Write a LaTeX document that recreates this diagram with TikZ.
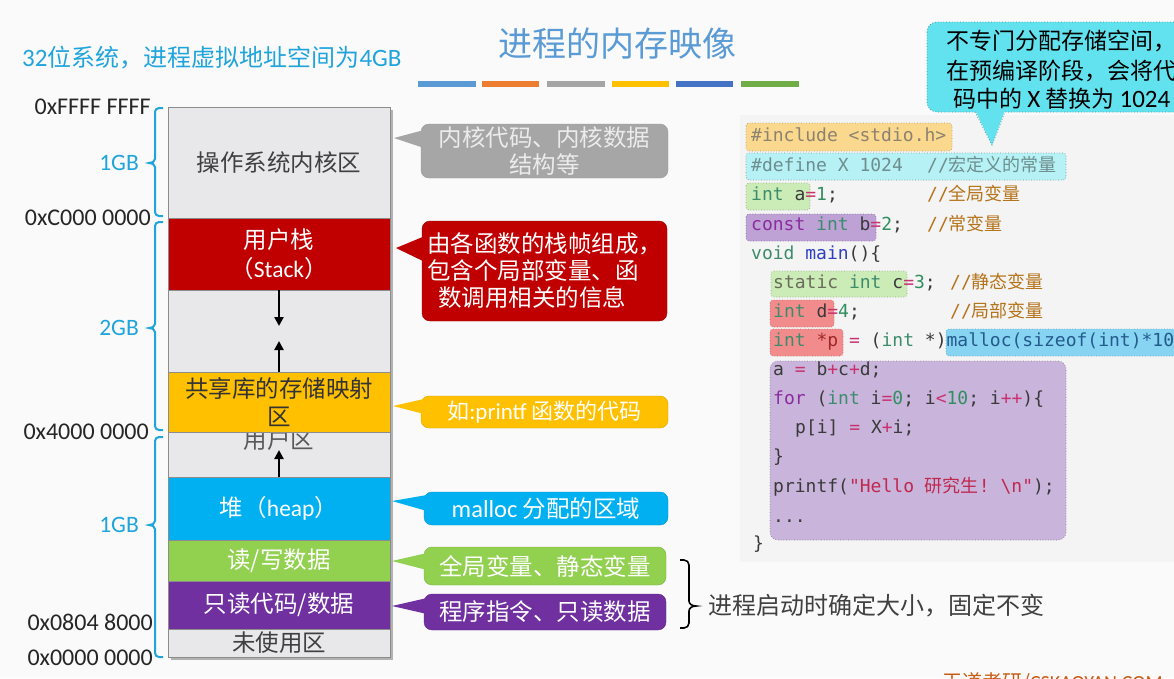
\documentclass[tikz,border=0pt]{standalone}
\usepackage{fontspec}
\setmainfont{Carlito}
\newfontfamily\cjk{Noto Sans CJK SC}
\newfontfamily\latin{Carlito}
\newfontfamily\mono{DejaVu Sans Mono}
\usetikzlibrary{calc,arrows.meta}
\definecolor{titleblue}{HTML}{5B9BD5}
\definecolor{subcyan}{HTML}{1FA4DC}
\definecolor{bar1}{HTML}{5B9BD5}
\definecolor{bar2}{HTML}{ED7D31}
\definecolor{bar3}{HTML}{A5A5A5}
\definecolor{bar4}{HTML}{FFC000}
\definecolor{bar5}{HTML}{4472C4}
\definecolor{bar6}{HTML}{70AD47}
\definecolor{seggray}{HTML}{E8E8EB}
\definecolor{segred}{HTML}{C00000}
\definecolor{segyellow}{HTML}{FFC000}
\definecolor{segcyan}{HTML}{00B0F0}
\definecolor{seggreen}{HTML}{92D050}
\definecolor{segpurple}{HTML}{7030A0}
\definecolor{callgray}{HTML}{A6A6A6}
\definecolor{aqua}{HTML}{62E2EE}
\definecolor{aquaborder}{HTML}{3C9CA4}
\definecolor{panel}{HTML}{F4F4F4}
\definecolor{hlorange}{HTML}{FAD98E}
\definecolor{hlcyan}{HTML}{B6F1F5}
\definecolor{hlgreen}{HTML}{CBEBB7}
\definecolor{hlpurple}{HTML}{BEA2D6}
\definecolor{hlred}{HTML}{F28C8C}
\definecolor{hlblue}{HTML}{86D3F2}
\definecolor{hlblock}{HTML}{C9B4DB}
\definecolor{ckw}{HTML}{3C8C6C}
\definecolor{ckw2}{HTML}{8B2C9E}
\definecolor{cfn}{HTML}{2F3FBF}
\definecolor{cop}{HTML}{C8326E}
\definecolor{cnum}{HTML}{2F8F5F}
\definecolor{ccom}{HTML}{B5731A}
\definecolor{cstr}{HTML}{C0284E}
\definecolor{cid}{HTML}{3A3A3A}
\definecolor{cinc}{HTML}{8C8270}
\definecolor{cdef}{HTML}{6E8E8E}
\definecolor{cstat}{HTML}{6B6B5B}
\definecolor{cptr}{HTML}{A02828}
\definecolor{cmal}{HTML}{245A8C}
\definecolor{wdred}{HTML}{C55A11}
\newcommand\cc[2]{\textcolor{#1}{#2}}
\newcommand\mybrace[3]{%
  \draw[cbrace] (163,#1) -- (159,#1) to[out=180,in=90] (155,#1+4) -- (155,#2-4)
    to[out=-90,in=0] (149,#2) to[out=0,in=90] (155,#2+4) -- (155,#3-4)
    to[out=-90,in=180] (159,#3) -- (163,#3);}
\begin{document}
\begin{tikzpicture}[x=1pt,y=-1pt,
  seg/.style={draw=black!45, line width=0.6pt, minimum width=222pt, inner sep=0pt,
    align=center, font=\cjk\fontsize{23.5}{28.5}\selectfont},
  callout/.style={rounded corners=8pt, inner sep=0pt, align=center, text=white,
    font=\cjk\fontsize{23.5}{27}\selectfont},
  hexlab/.style={anchor=east, inner sep=0pt, text=black!85, font=\latin\fontsize{24}{28}\selectfont},
  gblab/.style={anchor=east, inner sep=0pt, text=subcyan, font=\latin\fontsize{23.5}{27}\selectfont},
  cbrace/.style={draw=subcyan, line width=2pt},
  arr/.style={-{Triangle[length=9pt,width=9pt]}, line width=2.4pt},
  codeline/.style={anchor=west, inner sep=0pt, text=cid, text height=13pt, text depth=4pt,
    font=\mono\fontsize{18}{22}\selectfont\frenchspacing},
  hl/.style={rounded corners=3pt, dotted, line width=0.7pt}
]
\clip (0,0) rectangle (1174,678);
\fill[white!98!black] (0,0) rectangle (1174,678);

% title and subtitle
\node[text=titleblue, font=\cjk\fontsize{34}{40}\selectfont] (title) at (617,44) {进程的内存映像};
\node[anchor=west, inner sep=0pt, text=subcyan, font=\latin\fontsize{25}{29}\selectfont] (sub) at (22,58)
  {32{\cjk\fontsize{24}{29}\selectfont 位系统，进程虚拟地址空间为}4GB};
\fill[bar1] (418,81) rectangle (476,87);
\fill[bar2] (482,81) rectangle (539,87);
\fill[bar3] (547,81) rectangle (605,87);
\fill[bar4] (612,81) rectangle (669,87);
\fill[bar5] (676,81) rectangle (733,87);
\fill[bar6] (741,81) rectangle (799,87);

% memory column
\fill[black!30] (171,110) rectangle (393,660);
\node[seg, fill=seggray, minimum height=111pt, text=black!75] (kern) at (279,162.5) {操作系统内核区};
\node[seg, fill=segred, minimum height=72pt, text=white] (stack) at (279,254) {用户栈\\（{\latin Stack}）};
\node[seg, fill=seggray, minimum height=82pt] (gap) at (279,331) {};
\node[seg, fill=seggray, minimum height=45pt] (user) at (279,455) {};
\node[inner sep=0pt, text=black!65, font=\cjk\fontsize{23.5}{27}\selectfont] (ulab) at (279,440) {用户区};
\node[seg, fill=segyellow, minimum height=60pt, text=black!80] (shared) at (279,402) {共享库的存储映射\\区};
\node[seg, fill=segcyan, minimum height=63pt, text=white] (heap) at (279,508.5) {堆（{\latin heap}）};
\node[seg, fill=seggreen, minimum height=41pt, text=white] (rw) at (279,560.5) {读/写数据};
\node[seg, fill=segpurple, minimum height=48pt, text=white] (ro) at (279,605) {只读代码/数据};
\node[seg, fill=seggray, minimum height=28pt, text=black!75] (unused) at (279,643) {未使用区};

\coordinate (a1e) at (279,326);
\coordinate (a2e) at (279,341);
\coordinate (a3e) at (279,450);
\draw[arr] (stack.south) -- (a1e);
\draw[arr] (shared.north) -- (a2e);
\draw[arr] (heap.north) -- (a3e);

% left labels
\node[hexlab] (h1) at (151,107) {0xFFFF FFFF};
\node[hexlab] (h2) at (151,218) {0xC000 0000};
\node[hexlab] (h3) at (149,432) {0x4000 0000};
\node[hexlab] (h4) at (153,622) {0x0804 8000};
\node[hexlab] (h5) at (153,658) {0x0000 0000};
\node[gblab] (g1) at (139,163) {1GB};
\node[gblab] (g2) at (139,328) {2GB};
\node[gblab] (g3) at (139,525) {1GB};
\mybrace{108}{163}{216}
\mybrace{222}{328}{430}
\mybrace{437}{525}{657}

% callouts
\node[callout, fill=callgray, draw=black!40, minimum width=247pt, minimum height=54pt, text=white!92!black] (ck) at (544.5,151) {内核代码、内核数据\\结构等};
\coordinate (ckt) at (394,138);
\fill[callgray] (ckt) -- (424,130) -- (424,148) -- cycle;

\node[callout, fill=segred, draw=segred!80!black, minimum width=245pt, minimum height=100pt, align=left] (cs) at (544.5,271) {由各函数的栈帧组成，\\包含个局部变量、函\\\hspace{11pt}数调用相关的信息};
\coordinate (cst) at (396,248);
\fill[segred] (cst) -- (425,236) -- (425,262) -- cycle;

\node[callout, fill=segyellow, draw=segyellow!85!black, minimum width=247pt, minimum height=32pt, font=\cjk\fontsize{22}{25}\selectfont] (cy) at (544.5,412) {如{\latin\fontsize{23}{25}\selectfont :printf} 函数的代码};
\coordinate (cyt) at (393,406);
\fill[segyellow] (cyt) -- (424,399) -- (424,414) -- cycle;

\node[callout, fill=segcyan, draw=segcyan!85!black, minimum width=244pt, minimum height=33pt] (cc) at (546,508.5) {{\latin\fontsize{24.5}{27}\selectfont malloc} 分配的区域};
\coordinate (cct) at (392,501);
\fill[segcyan] (cct) -- (427,495) -- (427,511) -- cycle;

\node[callout, fill=seggreen, draw=seggreen!85!black, minimum width=242pt, minimum height=38pt] (cg) at (545,566) {全局变量、静态变量};
\coordinate (cgt) at (392,561);
\fill[seggreen] (cgt) -- (427,553) -- (427,570) -- cycle;

\node[callout, fill=segpurple, draw=segpurple!85!black, minimum width=242pt, minimum height=36pt] (cp) at (545,612) {程序指令、只读数据};
\coordinate (cpt) at (392,606);
\fill[segpurple] (cpt) -- (427,598) -- (427,614) -- cycle;

% right brace and note
\draw[line width=1.6pt] (680,560) -- (684,560) to[out=0,in=90] (689,565) -- (689,601)
  to[out=-90,in=180] (696,606) to[out=180,in=90] (689,611) -- (689,623)
  to[out=-90,in=0] (684,628) -- (680,628);
\node[anchor=west, inner sep=0pt, text=black!75, font=\cjk\fontsize{24}{28}\selectfont] (note) at (708,606) {进程启动时确定大小，固定不变};

% code panel
\fill[panel] (740,115) rectangle (1174,562);
\filldraw[hl, fill=hlorange, draw=hlorange!70!black] (746,123) rectangle (952,151);
\filldraw[hl, fill=hlcyan, draw=hlcyan!60!black] (746,153) rectangle (1066,180);
\filldraw[hl, fill=hlgreen, draw=hlgreen!70!black] (746,183) rectangle (810,210);
\filldraw[hl, fill=hlpurple, draw=hlpurple!70!black] (746,214) rectangle (876,241);
\filldraw[hl, fill=hlgreen, draw=hlgreen!70!black] (771,271) rectangle (907,297);
\filldraw[hl, fill=hlred, draw=hlred!80!black] (770,300) rectangle (834,327);
\filldraw[hl, fill=hlred, draw=hlred!80!black] (770,329) rectangle (843,356);
\filldraw[hl, fill=hlblue, draw=hlblue!80!black] (946,329) rectangle (1190,356);
\filldraw[hl, rounded corners=8pt, fill=hlblock, draw=hlblock!70!black] (770,361) rectangle (1066,540);

\node[codeline, text=cinc] (l1) at (751,137) {\#include <stdio.h>};
\node[codeline, text=cdef] (l2) at (751,167) {\#define X 1024};
\node[codeline, text=cdef] (m2) at (927,167) {//{\cjk 宏定义的常量}};
\node[codeline] (l3) at (751,196) {\cc{ckw}{int} a\cc{cop}{=}\cc{cnum}{1};};
\node[codeline, text=ccom] (m3) at (927,196) {//{\cjk 全局变量}};
\node[codeline] (l4) at (751,226) {\cc{ckw2}{const} \cc{ckw}{int} b\cc{cop}{=}\cc{cnum}{2};};
\node[codeline, text=ccom] (m4) at (927,226) {//{\cjk 常变量}};
\node[codeline] (l5) at (751,255) {\cc{ckw}{void} \cc{cfn}{main}()\{};
\node[codeline] (l6) at (773,284) {\cc{cstat}{static} \cc{ckw}{int} c\cc{cop}{=}\cc{cnum}{3};};
\node[codeline, text=ccom] (m6) at (950,284) {//{\cjk 静态变量}};
\node[codeline] (l7) at (773,313) {\cc{ckw}{int} d\cc{cop}{=}\cc{cnum}{4};};
\node[codeline, text=ccom] (m7) at (950,313) {//{\cjk 局部变量}};
\node[codeline] (l8) at (773,342) {\cc{ckw}{int} \cc{cptr}{*p} \cc{cop}{=} (\cc{ckw}{int} *)\cc{cmal}{malloc(sizeof(int)*10}};
\node[codeline] (l9) at (773,371) {a \cc{cop}{=} b\cc{cop}{+}c\cc{cop}{+}d;};
\node[codeline] (l10) at (773,400) {\cc{ckw2}{for} (\cc{ckw}{int} i\cc{cop}{=}\cc{cnum}{0}; i\cc{cop}{<}\cc{cnum}{10}; i\cc{cop}{++})\{};
\node[codeline] (l11) at (795,429) {p[i] \cc{cop}{=} X\cc{cop}{+}i;};
\node[codeline] (l12) at (773,458) {\}};
\node[codeline] (l13) at (773,488) {printf(\cc{cstr}{"Hello {\cjk 研究生}! \textbackslash n"});};
\node[codeline] (l14) at (773,518) {...};
\node[codeline] (l15) at (753,545) {\}};

% top-right callout
\filldraw[rounded corners=10pt, fill=aqua, draw=aquaborder, dotted, line width=0.8pt] (927,22) rectangle (1210,112);
\fill[aqua] (992,145) -- (975,110) -- (1005,110) -- cycle;
\draw[aquaborder, dotted, line width=0.8pt] (975,112) -- (992,145) -- (1005,112);
\node[anchor=west, inner sep=0pt, font=\cjk\fontsize{23}{27}\selectfont] (tr1) at (946,41) {不专门分配存储空间，};
\node[anchor=west, inner sep=0pt, font=\cjk\fontsize{23}{27}\selectfont] (tr2) at (946,71) {在预编译阶段，会将代};
\node[anchor=west, inner sep=0pt, font=\cjk\fontsize{23}{27}\selectfont] (tr3) at (953,99) {码中的 {\latin\fontsize{25}{27}\selectfont X} 替换为 {\latin\fontsize{25}{27}\selectfont 1024}};

% bottom-right credit (cut off by the frame, as in the reference)
\node[anchor=west, inner sep=0pt, text=wdred, font=\cjk\fontsize{20}{24}\selectfont] (credit) at (942,683) {王道考研/{\latin CSKAOYAN.COM}};
\end{tikzpicture}
\end{document}
